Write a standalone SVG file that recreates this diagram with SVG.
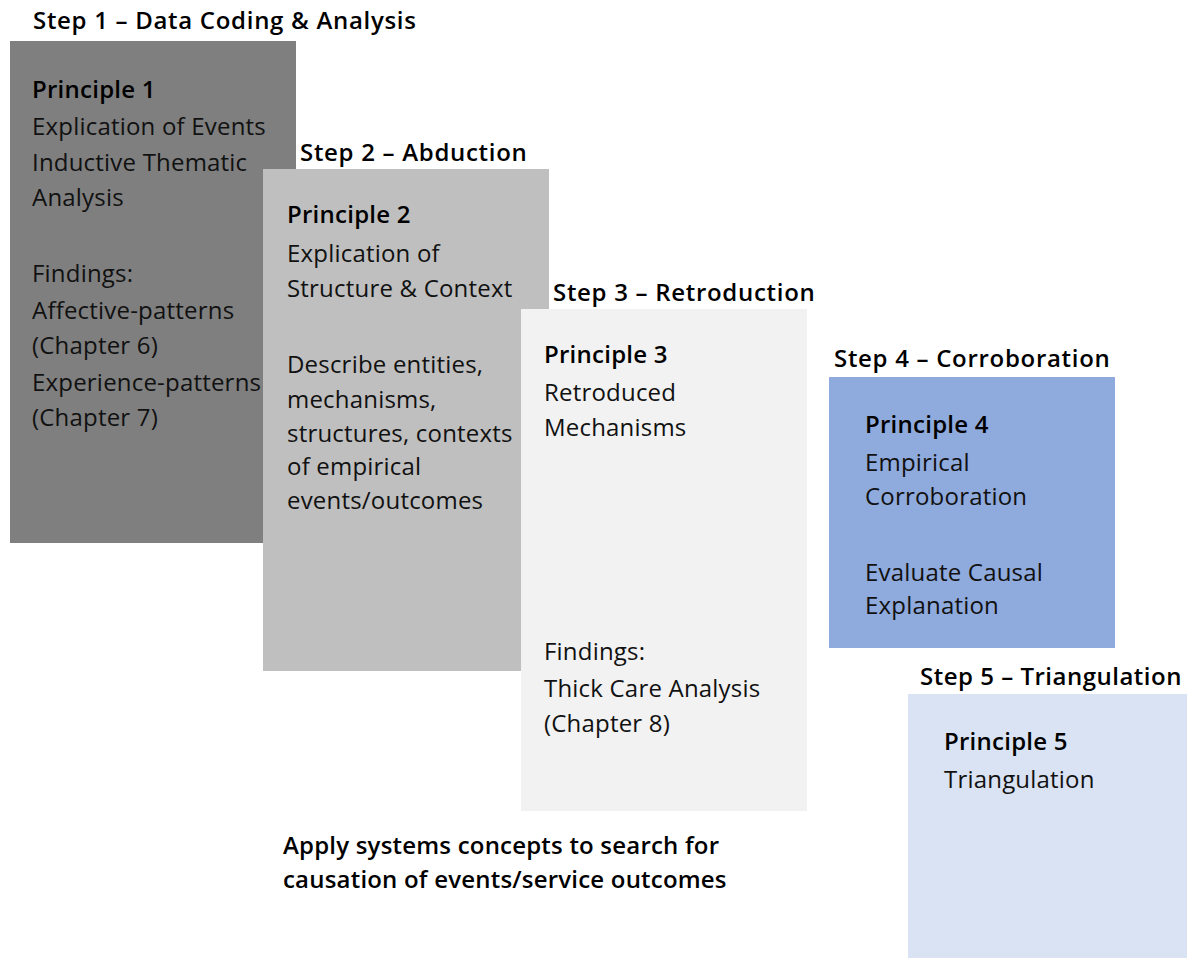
<svg xmlns="http://www.w3.org/2000/svg" width="1187" height="958" viewBox="0 0 1187 958">
  <style>
    text { font-family: "Open Sans", "Noto Sans", "Liberation Sans", sans-serif; fill: #000; }
    .step { font-size: 24px; font-weight: 600; letter-spacing: 0.7px; }
    .head { font-size: 24px; font-weight: 600; letter-spacing: 0.25px; }
    .body { font-size: 24px; font-weight: 400; letter-spacing: 0.2px; fill: #111; }
    .note { font-size: 24px; font-weight: 600; letter-spacing: 0.2px; }
  </style>
  <rect width="1187" height="958" fill="#ffffff"/>

  <!-- Step 1 -->
  <g id="step1">
    <text class="step" x="33" y="29">Step 1 – Data Coding &amp; Analysis</text>
    <rect x="10" y="41" width="286" height="502" fill="#7f7f7f"/>
    <text class="head" x="32" y="98">Principle 1</text>
    <text class="body" x="32" y="134.5">Explication of Events</text>
    <text class="body" x="32" y="170.5">Inductive Thematic</text>
    <text class="body" x="32" y="205.5">Analysis</text>
    <text class="body" x="32" y="281.5">Findings:</text>
    <text class="body" x="32" y="318.5">Affective-patterns</text>
    <text class="body" x="32" y="353.5">(Chapter 6)</text>
    <text class="body" x="32" y="390.5">Experience-patterns</text>
    <text class="body" x="32" y="425.5">(Chapter 7)</text>
  </g>

  <!-- Step 2 -->
  <g id="step2">
    <text class="step" x="300" y="161">Step 2 – Abduction</text>
    <rect x="263" y="169" width="286" height="502" fill="#bfbfbf"/>
    <text class="head" x="287" y="223">Principle 2</text>
    <text class="body" x="287" y="261.5">Explication of</text>
    <text class="body" x="287" y="296.5">Structure &amp; Context</text>
    <text class="body" x="287" y="372.5">Describe entities,</text>
    <text class="body" x="287" y="407.5">mechanisms,</text>
    <text class="body" x="287" y="441.5">structures, contexts</text>
    <text class="body" x="287" y="474.5">of empirical</text>
    <text class="body" x="287" y="508.5">events/outcomes</text>
  </g>

  <!-- Step 3 -->
  <g id="step3">
    <text class="step" x="553" y="301">Step 3 – Retroduction</text>
    <rect x="521" y="309" width="286" height="502" fill="#f2f2f2"/>
    <text class="head" x="544" y="363">Principle 3</text>
    <text class="body" x="544" y="400.5">Retroduced</text>
    <text class="body" x="544" y="435.5">Mechanisms</text>
    <text class="body" x="544" y="659.5">Findings:</text>
    <text class="body" x="544" y="696.5">Thick Care Analysis</text>
    <text class="body" x="544" y="731.5">(Chapter 8)</text>
  </g>

  <!-- Step 4 -->
  <g id="step4">
    <text class="step" x="834" y="367">Step 4 – Corroboration</text>
    <rect x="829" y="377" width="286" height="271" fill="#8faadc"/>
    <text class="head" x="865" y="433">Principle 4</text>
    <text class="body" x="865" y="470.5">Empirical</text>
    <text class="body" x="865" y="504.5">Corroboration</text>
    <text class="body" x="865" y="580.5">Evaluate Causal</text>
    <text class="body" x="865" y="613.5">Explanation</text>
  </g>

  <!-- Step 5 -->
  <g id="step5">
    <text class="step" x="920" y="685" style="letter-spacing:0.5px">Step 5 – Triangulation</text>
    <rect x="908" y="694" width="279" height="264" fill="#dae3f3"/>
    <text class="head" x="944" y="750">Principle 5</text>
    <text class="body" x="944" y="787.5">Triangulation</text>
  </g>

  <!-- Caption under the steps -->
  <g id="caption">
    <text class="note" x="283" y="854">Apply systems concepts to search for</text>
    <text class="note" x="283" y="888">causation of events/service outcomes</text>
  </g>

  <g id="connectors"/>
</svg>
